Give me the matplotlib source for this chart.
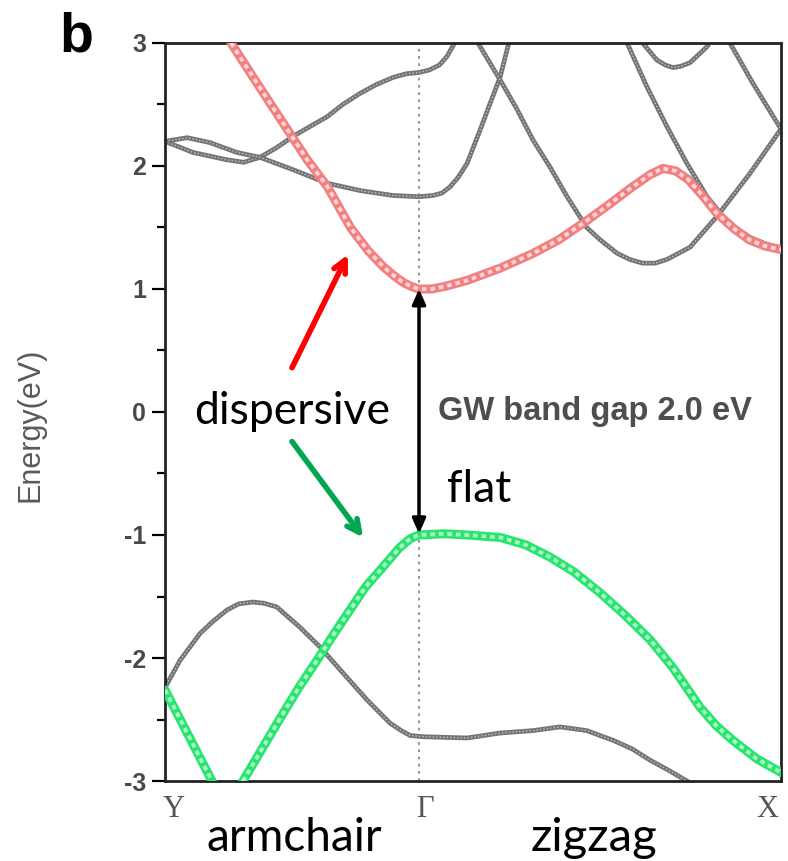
import numpy as np
import matplotlib
matplotlib.use("Agg")
import matplotlib.pyplot as plt
from matplotlib.transforms import offset_copy

# k-path: Y -> Gamma -> X (Gamma at 1.0)
k_ticks = [0.0, 1.0, 2.425]
k_labels = ["Y", "\u0393", "X"]

# conduction band minimum (highlighted red)
cb_k = [0.26, 0.36, 0.49, 0.56, 0.64, 0.73, 0.80, 0.86, 0.90, 0.94, 0.97, 1.0, 1.05, 1.1,
        1.19, 1.32, 1.45, 1.55, 1.65, 1.75, 1.84, 1.91, 1.96, 2.01, 2.06, 2.12, 2.17,
        2.24, 2.30, 2.36, 2.425]
cb_e = [3.0, 2.68, 2.27, 2.05, 1.83, 1.50, 1.31, 1.18, 1.11, 1.05, 1.02, 1.0, 1.0, 1.02,
        1.07, 1.17, 1.29, 1.40, 1.54, 1.69, 1.83, 1.93, 1.98, 1.96, 1.89, 1.75, 1.62,
        1.49, 1.40, 1.35, 1.32]

# valence band maximum (highlighted green)
vb_k = [0.0, 0.09, 0.185, 0.24, 0.307, 0.39, 0.465, 0.53, 0.598, 0.66, 0.728, 0.79,
        0.858, 0.92, 0.965, 1.0, 1.1, 1.19, 1.32, 1.42, 1.516, 1.61, 1.713, 1.81,
        1.909, 2.0, 2.106, 2.17, 2.236, 2.33, 2.425]
vb_e = [-2.26, -2.62, -3.0, -3.25, -3.0, -2.71, -2.45, -2.23, -2.02, -1.82, -1.61, -1.42,
        -1.26, -1.11, -1.03, -1.0, -0.99, -1.0, -1.02, -1.08, -1.18, -1.30, -1.47, -1.65,
        -1.85, -2.08, -2.40, -2.55, -2.67, -2.82, -2.93]

# other bands (gray)
vb2_k = [0.0, 0.059, 0.138, 0.19, 0.244, 0.29, 0.346, 0.39, 0.44, 0.531, 0.61, 0.70,
         0.795, 0.886, 0.93, 0.965, 1.016, 1.19, 1.319, 1.449, 1.555, 1.66, 1.765,
         1.84, 1.909, 1.98, 2.055, 2.12]
vb2_e = [-2.24, -2.02, -1.80, -1.70, -1.61, -1.56, -1.545, -1.555, -1.585, -1.75, -1.91,
         -2.12, -2.34, -2.53, -2.59, -2.63, -2.64, -2.65, -2.61, -2.59, -2.56, -2.59, -2.67,
         -2.74, -2.83, -2.91, -3.0, -3.1]

cbA_k = [0.0, 0.11, 0.244, 0.31, 0.374, 0.44, 0.504, 0.57, 0.638, 0.70, 0.768, 0.83,
         0.898, 0.95, 1.0, 1.04, 1.08, 1.11, 1.14]
cbA_e = [2.20, 2.11, 2.05, 2.03, 2.07, 2.15, 2.24, 2.32, 2.40, 2.50, 2.59, 2.66,
         2.72, 2.75, 2.76, 2.78, 2.82, 2.89, 3.0]

cbB_k = [0.0, 0.087, 0.177, 0.283, 0.374, 0.504, 0.638, 0.768, 0.898, 1.0, 1.055,
         1.09, 1.122, 1.155, 1.189, 1.24, 1.28, 1.319, 1.346, 1.36]
cbB_e = [2.20, 2.23, 2.19, 2.11, 2.07, 1.97, 1.86, 1.80, 1.76, 1.75, 1.76,
         1.78, 1.83, 1.91, 2.02, 2.29, 2.51, 2.72, 2.94, 3.05]

cbC_k = [1.232, 1.319, 1.386, 1.449, 1.516, 1.583, 1.66, 1.713, 1.78, 1.83, 1.88, 1.93,
         1.976, 2.067, 2.173, 2.303, 2.425]
cbC_e = [3.0, 2.70, 2.46, 2.21, 1.99, 1.75, 1.50, 1.40, 1.29, 1.24, 1.21, 1.21,
         1.24, 1.34, 1.59, 1.94, 2.30]

cbD_k = [1.819, 1.898, 1.976, 2.055, 2.134, 2.197, 2.25, 2.303, 2.36, 2.425]
cbD_e = [3.0, 2.64, 2.32, 2.02, 1.75, 1.59, 1.49, 1.42, 1.37, 1.33]

cbE_k = [1.88, 1.937, 1.97, 2.0, 2.03, 2.067, 2.134, 2.15]
cbE_e = [3.0, 2.86, 2.82, 2.80, 2.81, 2.84, 2.97, 3.02]

cbF_k = [2.224, 2.315, 2.425]
cbF_e = [3.0, 2.67, 2.30]

gray_bands = [(vb2_k, vb2_e), (cbA_k, cbA_e), (cbB_k, cbB_e), (cbC_k, cbC_e),
              (cbD_k, cbD_e), (cbE_k, cbE_e), (cbF_k, cbF_e)]

gap = min(cb_e) - max(vb_e)
sans = ["Liberation Sans", "DejaVu Sans"]
deco = ["Lato", "DejaVu Sans"]

fig = plt.figure(figsize=(7.88, 8.61), dpi=100)
ax = fig.add_axes([0.2094, 0.0929, 0.7817, 0.8572])

ax.axvline(k_ticks[1], color="#8a8a8a", ls=(0, (1.5, 2.5)), lw=1.3, zorder=1)

for kk, ee in gray_bands:
    ax.plot(kk, ee, color="#747474", lw=3.4, solid_joinstyle="round",
            solid_capstyle="round", zorder=2)
    ax.plot(kk, ee, color="#c4c4c4", lw=1.0, ls=(0, (1, 1.5)), zorder=2)

ax.plot(cb_k, cb_e, color="#f28080", lw=6.5, solid_joinstyle="round",
        solid_capstyle="round", zorder=3)
ax.plot(cb_k, cb_e, color="#ffd6d6", lw=2.8, ls=(0, (1.2, 1)), zorder=3)
ax.plot(vb_k, vb_e, color="#28e570", lw=6.5, solid_joinstyle="round",
        solid_capstyle="round", zorder=3)
ax.plot(vb_k, vb_e, color="#aef8c6", lw=2.8, ls=(0, (1.2, 1)), zorder=3)

ax.set_xlim(k_ticks[0], k_ticks[-1])
ax.set_ylim(-3, 3)
ax.set_xticks(k_ticks)
ax.set_xticklabels(k_labels, family=["Liberation Serif", "DejaVu Serif"],
                   fontsize=22, color="#555555")
ax.tick_params(axis="x", length=0, pad=10)
labs = ax.get_xticklabels()
labs[0].set_ha("left")
labs[-1].set_ha("right")
labs[-1].set_transform(offset_copy(labs[-1].get_transform(), fig=fig, x=-3, units="dots"))
labs[1].set_transform(offset_copy(labs[1].get_transform(), fig=fig, x=6, units="dots"))
labs[0].set_transform(offset_copy(labs[0].get_transform(), fig=fig, x=-2, units="dots"))
ax.set_yticks([3, 2, 1, 0, -1, -2, -3])
ax.set_yticklabels(["3", "2", "1", "0", "-1", "-2", "-3"], family=sans,
                   fontsize=18, fontweight="bold", color="#4a4a4a")
ax.set_yticks(np.arange(-2.5, 3, 1.0), minor=True)
ax.tick_params(axis="y", which="major", direction="out", length=9.5, width=1.6, pad=4)
ax.tick_params(axis="y", which="minor", direction="out", length=5.5, width=1.6)
for s in ax.spines.values():
    s.set_linewidth(2.0)
    s.set_color("#222222")

fig.text(30 / 788, 1 - 425 / 861, "Energy(eV)", rotation=90, ha="center", va="center",
         family=sans, fontsize=22, color="#5a5a5a")
fig.text(76 / 788, 1 - 37 / 861, "b", ha="center", va="center", family=sans,
         fontsize=40, fontweight="bold", color="black")

# band gap arrow at Gamma
ax.annotate("", xy=(1.0, max(vb_e)), xytext=(1.0, min(cb_e)),
            arrowprops=dict(arrowstyle="<|-|>,head_length=0.9,head_width=0.4",
                            color="black", lw=2.5, shrinkA=0, shrinkB=0), zorder=5)
ax.text(1.075, 0.0, "GW band gap %.1f eV" % gap, ha="left", va="center",
        family=sans, fontsize=23.5, fontweight="bold", color="#4e4e4e")

ax.text(0.885, 0.0, "dispersive", ha="right", va="center", family=deco, fontsize=32,
        color="black")
ax.text(1.11, -0.63, "flat", ha="left", va="center", family=deco, fontsize=32,
        color="black")
ax.annotate("", xy=(0.72, 1.28), xytext=(0.50, 0.36),
            arrowprops=dict(arrowstyle="->,head_length=0.9,head_width=0.45",
                            color="#ff0000", lw=4, shrinkA=0, shrinkB=0))
ax.annotate("", xy=(0.78, -1.02), xytext=(0.50, -0.24),
            arrowprops=dict(arrowstyle="->,head_length=0.9,head_width=0.45",
                            color="#00a650", lw=4, shrinkA=0, shrinkB=0))

fig.text(294 / 788, 1 - 838 / 861, "armchair", ha="center", va="center", family=deco,
         fontsize=33, color="black")
fig.text(594 / 788, 1 - 838 / 861, "zigzag", ha="center", va="center", family=deco,
         fontsize=34, color="black")

fig.savefig("out.png", dpi=100)
